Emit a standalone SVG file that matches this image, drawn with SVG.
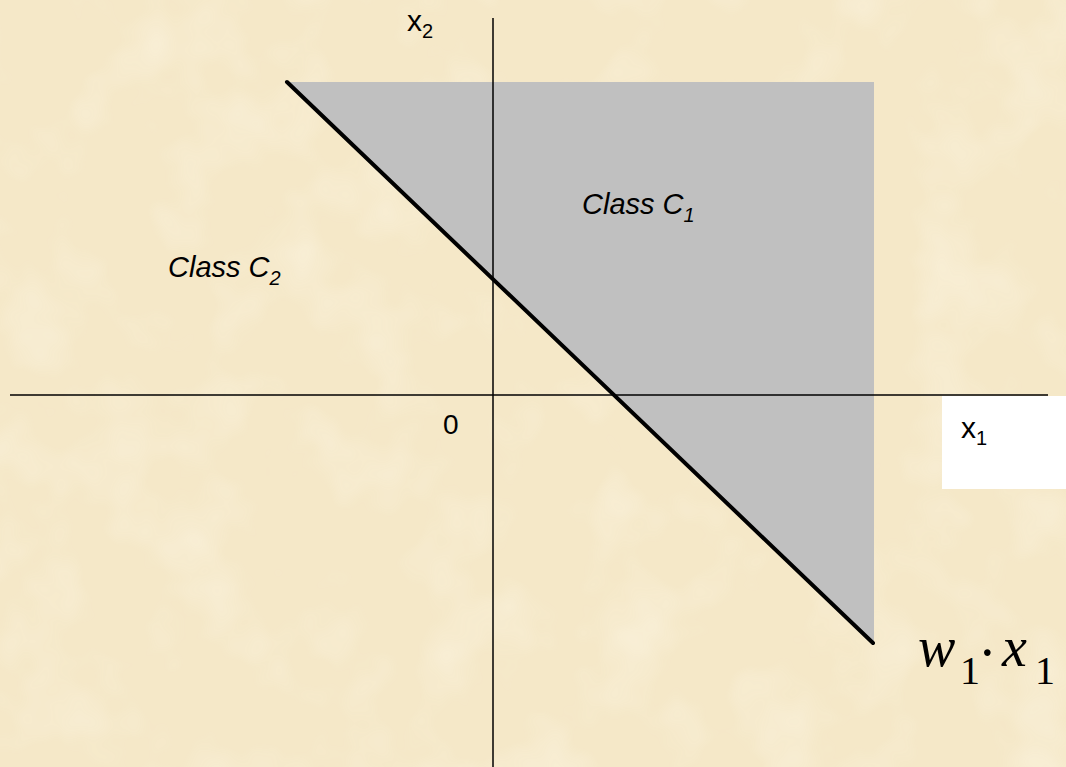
<svg xmlns="http://www.w3.org/2000/svg" width="1066" height="767" viewBox="0 0 1066 767">
<defs>
<filter id="parch" x="0" y="0" width="100%" height="100%">
<feTurbulence type="fractalNoise" baseFrequency="0.012" numOctaves="3" seed="4" result="n"/>
<feColorMatrix in="n" type="matrix" values="0 0 0 0 1  0 0 0 0 0.97  0 0 0 0 0.88  0 0 0 1.6 -0.75"/>
</filter>
</defs>
<style>
.lbl{font-family:"Liberation Sans",Arial,sans-serif;fill:#000}
.it{font-style:italic}
.axis{stroke:#000;stroke-width:1.5;fill:none}
.math{font-family:"Liberation Serif","Times New Roman",serif;fill:#000}
</style>
<rect id="background" x="0" y="0" width="1066" height="767" fill="#F5E8C8"/>
<rect x="0" y="0" width="1066" height="767" filter="url(#parch)" opacity="0.5"/>
<g id="region-c1">
<polygon points="287,82 874,82 874,643" fill="#C0C0C0"/>
</g>
<g id="white-box">
<rect x="942" y="396" width="124" height="93" fill="#FFFFFF"/>
</g>
<g id="connectors">
<line class="axis" x1="493" y1="18" x2="493" y2="767"/>
<line class="axis" x1="10" y1="395" x2="1048" y2="395"/>
<line x1="287" y1="82" x2="873" y2="643" stroke="#000" stroke-width="4" stroke-linecap="round"/>
</g>
<g id="label-x2">
<text class="lbl" x="407" y="31" font-size="30">x<tspan font-size="20" dy="7">2</tspan></text>
</g>
<g id="label-c1">
<text class="lbl it" x="582" y="214" font-size="29">Class C<tspan font-size="20" dy="8">1</tspan></text>
</g>
<g id="label-c2">
<text class="lbl it" x="168" y="277" font-size="29">Class C<tspan font-size="20" dy="8">2</tspan></text>
</g>
<g id="label-origin">
<text class="lbl" x="443" y="434" font-size="28">0</text>
</g>
<g id="label-x1">
<text class="lbl" x="961" y="438" font-size="30">x<tspan font-size="20" dy="7">1</tspan></text>
</g>
<g id="label-w1x1">
<text class="math" font-size="56"><tspan x="918" y="666" font-style="italic">w</tspan><tspan x="960" y="684" font-size="40">1</tspan></text>
<text class="math" x="978" y="672" font-size="56">·</text>
<text class="math" font-size="56"><tspan x="1002" y="666" font-style="italic">x</tspan><tspan x="1035" y="684" font-size="40">1</tspan></text>
</g>
</svg>
